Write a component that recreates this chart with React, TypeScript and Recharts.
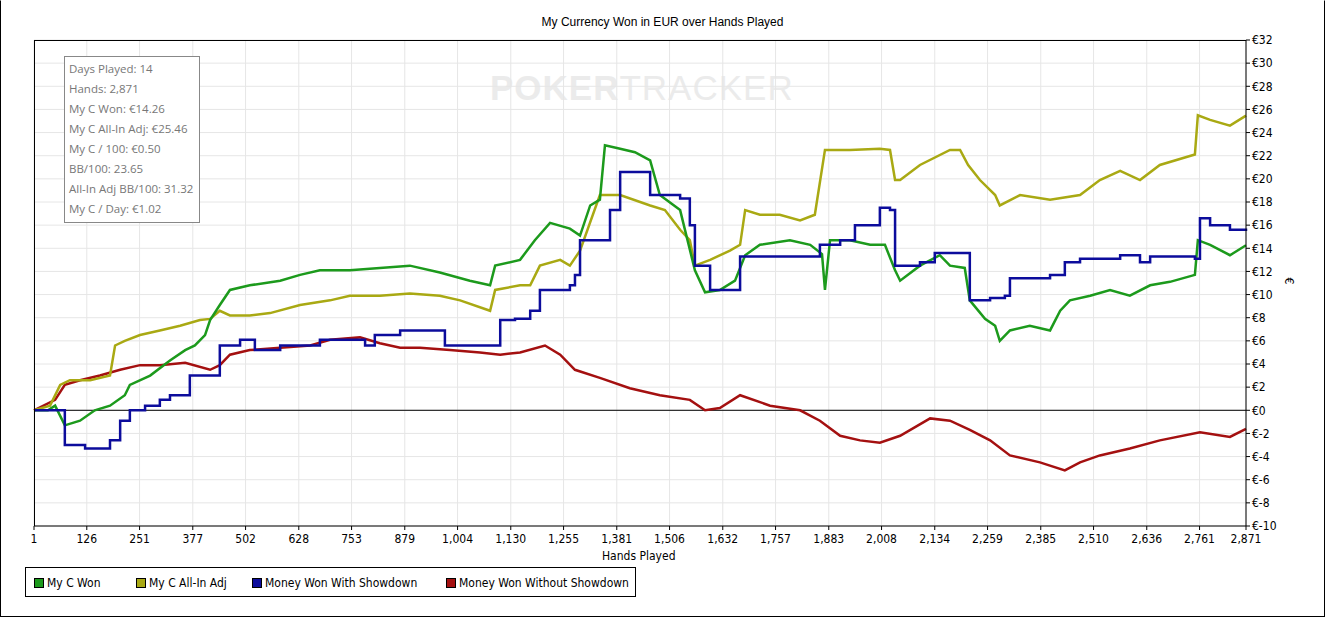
import React from 'react';
import { LineChart, Line, XAxis, YAxis, CartesianGrid, ReferenceLine } from 'recharts';

const xTicks = [1, 126, 251, 377, 502, 628, 753, 879, 1004, 1130, 1255, 1381, 1506, 1632, 1757, 1883, 2008, 2134, 2259, 2385, 2510, 2636, 2761, 2871];
const yTicks = [-10, -8, -6, -4, -2, 0, 2, 4, 6, 8, 10, 12, 14, 16, 18, 20, 22, 24, 26, 28, 30, 32];

const greenHands = [1,34,51,74,110,145,181,216,228,276,323,359,382,406,418,441,465,512,584,631,678,749,820,891,962,1033,1081,1093,1152,1187,1223,1270,1294,1318,1341,1353,1389,1424,1460,1483,1531,1566,1590,1625,1661,1685,1720,1791,1839,1867,1874,1886,1933,1981,2016,2040,2052,2099,2146,2170,2205,2217,2253,2277,2288,2312,2359,2407,2431,2454,2502,2549,2596,2644,2691,2750,2757,2786,2833,2871];
const greenVals = [0,0,0.4,-1.3,-0.9,0,0.4,1.3,2.2,3.0,4.3,5.2,5.6,6.5,7.8,9.1,10.4,10.8,11.2,11.7,12.1,12.1,12.3,12.5,11.9,11.2,10.8,12.5,13.0,14.7,16.2,15.7,15.1,17.7,18.2,22.9,22.6,22.3,21.6,18.6,17.3,12.1,10.2,10.4,11.2,13.4,14.3,14.7,14.3,13.5,10.4,14.7,14.7,14.3,14.3,12.1,11.2,12.5,13.4,12.5,12.3,9.5,7.9,7.3,6.0,6.9,7.3,6.9,8.6,9.5,9.9,10.4,9.9,10.8,11.1,11.7,14.7,14.3,13.4,14.26];

const oliveHands = [1,39,63,86,134,181,193,216,252,299,347,394,418,441,465,512,560,631,702,749,820,891,962,1010,1081,1093,1152,1176,1199,1247,1270,1294,1341,1389,1460,1495,1531,1554,1566,1602,1649,1673,1685,1720,1767,1815,1850,1874,1933,2004,2028,2040,2052,2099,2170,2194,2213,2241,2277,2288,2336,2407,2478,2525,2573,2620,2667,2750,2757,2786,2833,2871];
const oliveVals = [0,0.4,2.2,2.6,2.6,3.0,5.6,6.0,6.5,6.9,7.3,7.8,7.9,8.6,8.2,8.2,8.4,9.1,9.5,9.9,9.9,10.1,9.9,9.5,8.6,10.4,10.8,10.8,12.5,13.0,12.5,13.8,18.6,18.6,17.7,17.3,15.6,14.7,12.5,13.0,13.8,14.3,17.3,16.9,16.9,16.4,16.9,22.5,22.5,22.6,22.5,19.9,19.9,21.2,22.5,22.5,21.2,19.9,18.6,17.7,18.6,18.2,18.6,19.9,20.7,19.9,21.2,22.1,25.5,25.1,24.6,25.46];

const blueHands = [1,51,74,122,181,205,228,264,299,323,370,418,441,489,524,584,678,749,785,808,868,962,974,1081,1105,1140,1176,1199,1270,1282,1294,1341,1365,1389,1448,1460,1531,1554,1566,1602,1661,1673,1815,1862,1910,1945,2004,2028,2040,2099,2134,2205,2217,2265,2300,2312,2407,2442,2478,2573,2620,2644,2750,2762,2786,2833,2871];
const blueVals = [0,0,-3.0,-3.3,-2.6,-0.9,0,0.4,0.9,1.3,3.0,3.0,5.6,6.1,5.2,5.6,6.1,6.1,5.6,6.5,6.9,6.9,5.6,5.6,7.8,7.9,8.6,10.4,10.8,11.7,14.7,14.7,17.3,20.6,20.6,18.6,18.3,16.0,12.5,10.4,10.4,13.3,13.3,14.3,14.7,16.0,17.5,17.3,12.5,12.8,13.6,13.6,9.5,9.7,9.9,11.4,11.7,12.8,13.1,13.4,12.8,13.3,13.1,16.6,16.0,15.6,15.7];

const redHands = [1,51,74,110,157,205,252,299,359,418,441,465,512,584,655,702,773,820,868,915,986,1057,1105,1152,1211,1247,1282,1341,1412,1483,1554,1590,1625,1673,1744,1815,1862,1910,1957,2004,2052,2123,2170,2217,2265,2312,2383,2442,2478,2525,2596,2667,2762,2833,2871];
const redVals = [0,0.9,2.2,2.6,3.0,3.5,3.9,3.9,4.1,3.5,3.9,4.8,5.2,5.4,5.6,6.1,6.3,5.8,5.4,5.4,5.2,5.0,4.8,5.0,5.6,4.8,3.5,2.8,1.9,1.3,0.9,0,0.2,1.3,0.4,0,-0.9,-2.2,-2.6,-2.8,-2.2,-0.7,-0.9,-1.7,-2.6,-3.9,-4.5,-5.2,-4.5,-3.9,-3.3,-2.6,-1.9,-2.3,-1.6];

const statLines = ['Days Played: 14', 'Hands: 2,871', 'My C Won: €14.26', 'My C All-In Adj: €25.46', 'My C / 100: €0.50', 'BB/100: 23.65', 'All-In Adj BB/100: 31.32', 'My C / Day: €1.02'];

const series = [
  { name: 'My C Won', color: '#1c9a1c', hands: greenHands, vals: greenVals, curve: 'linear' },
  { name: 'My C All-In Adj', color: '#a9a913', hands: oliveHands, vals: oliveVals, curve: 'linear' },
  { name: 'Money Won With Showdown', color: '#0c0c9c', hands: blueHands, vals: blueVals, curve: 'stepAfter' },
  { name: 'Money Won Without Showdown', color: '#a41010', hands: redHands, vals: redVals, curve: 'linear' },
];
const drawOrder = [3, 1, 0, 2];

const font = '"Liberation Sans Narrow", "DejaVu Sans Condensed", "Liberation Sans", Arial, sans-serif';

export default function App() {
  return (
    <div style={{ position: 'absolute', left: 0, top: 0, width: 1325, height: 617, background: '#fff', fontFamily: font }}>
      <div style={{ position: 'absolute', left: 0, top: 0, width: 1323, height: 615, border: '1px solid #000', borderTop: '1px solid #fff' }} />
      <div style={{ position: 'absolute', left: 0, width: 1325, top: 15, textAlign: 'center', fontSize: 12, fontFamily: '"Liberation Sans", Arial, sans-serif' }}>My Currency Won in EUR over Hands Played</div>
      <div style={{ position: 'absolute', left: 490, top: 68, fontSize: 35, fontWeight: 'bold', color: '#ebebeb', fontFamily: '"Liberation Sans", Arial', letterSpacing: 1 }}>
        POKER<span style={{ fontWeight: 'normal' }}>TRACKER</span>
      </div>
      <LineChart width={1325} height={617} margin={{ top: 40, left: 34, right: 29, bottom: 61 }} style={{ position: 'absolute', left: 0, top: 0 }}>
        <CartesianGrid stroke="#e6e6e6" vertical horizontal />
        <XAxis type="number" dataKey="h" domain={[1, 2871]} ticks={xTicks} allowDuplicatedCategory={false} height={30}
          tickFormatter={(v: number) => v.toLocaleString('en-US')} tick={{ fontSize: 12, fill: '#000', fontFamily: font, dy: 2 }}
          stroke="#000" tickSize={4} interval={0} />
        <YAxis orientation="right" type="number" domain={[-10, 32]} ticks={yTicks} width={50} interval={0}
          tickFormatter={(v: number) => (v < 0 ? '€-' + Math.abs(v) : '€' + v)} tick={{ fontSize: 12, fill: '#000', fontFamily: font }}
          stroke="#000" tickSize={4} />
        <ReferenceLine y={0} stroke="#000" strokeWidth={1} />
        {drawOrder.map((i) => {
          const s = series[i];
          const data = s.hands.map((h, k) => ({ h, v: s.vals[k] }));
          return <Line key={s.name} data={data} dataKey="v" type={s.curve as any} stroke={s.color} strokeWidth={2.5} dot={false} isAnimationActive={false} />;
        })}
      </LineChart>
      <div style={{ position: 'absolute', left: 34, top: 40, width: 1211, height: 485, borderTop: '1px solid #000', borderLeft: '1px solid #000', pointerEvents: 'none' }} />
      <div style={{ position: 'absolute', left: 64, top: 56, width: 136, height: 167, border: '1px solid #888', background: '#fff', fontFamily: '"Open Sans", "Noto Sans", sans-serif', fontSize: 11.5, color: '#777', padding: '3px 0 0 4px', boxSizing: 'border-box' }}>
        {statLines.map((t) => <div key={t} style={{ height: 20, lineHeight: '18px' }}>{t}</div>)}
      </div>
      <div style={{ position: 'absolute', left: 602, top: 549, fontSize: 12 }}>Hands Played</div>
      <div style={{ position: 'absolute', left: 1286, top: 274, fontSize: 12, transform: 'rotate(90deg)' }}>€</div>
      <div style={{ position: 'absolute', left: 25, top: 567, width: 611, height: 30, border: '1px solid #000', boxSizing: 'border-box', fontSize: 12 }}>
        {series.map((s, i) => (
          <div key={s.name} style={{ position: 'absolute', left: [8, 110, 226, 420][i], top: 8, display: 'flex', alignItems: 'center' }}>
            <span style={{ display: 'inline-block', width: 8, height: 8, background: s.color, border: '1px solid #000', marginRight: 3 }} />
            <span>{s.name}</span>
          </div>
        ))}
      </div>
    </div>
  );
}
